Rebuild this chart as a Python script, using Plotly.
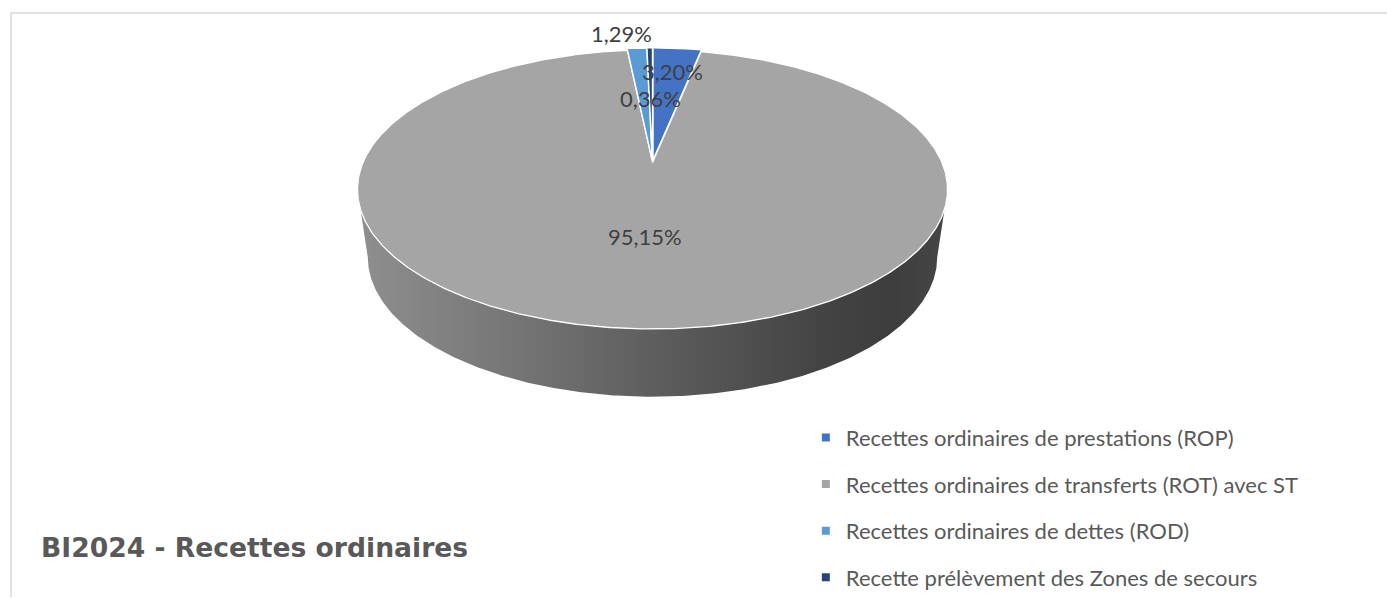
import numpy as np
import plotly.graph_objects as go

# ---- data ----
categories = [
    "Recettes ordinaires de prestations (ROP)",
    "Recettes ordinaires de transferts (ROT) avec ST",
    "Recettes ordinaires de dettes (ROD)",
    "Recette prélèvement des Zones de secours",
]
values = [3.20, 95.15, 1.29, 0.36]
labels = ["3,20%", "95,15%", "1,29%", "0,36%"]
title_text = "BI2024 - Recettes ordinaires"

# ---- styles / geometry (pixel space) ----
colors = ["#4472C4", "#A5A5A5", "#5B9BD5", "#264478"]
X0, Y0 = 652.5, 163.0      # projected pie centre
A, B, K = 289.5, 134.8, 0.193  # radii and perspective factor
DEPTH, BSCALE = 68.0, 0.965
explode = [0.02, 0.0, 0.02, 0.02]
label_r = [0.78, 0.50, 1.18, 0.52]
label_dx = [0, 0, -13, 0]
FONT = "Lato"
TXT = "#404040"


def proj(u, v):
    w = 1 + K * v
    return X0 + A * u / w, Y0 - B * v / w


def ring(t1, t2, r=1.0, ou=0.0, ov=0.0, n=None):
    n = n or max(4, int(abs(t2 - t1) / 0.5) + 2)
    th = np.radians(np.linspace(t1, t2, n))
    return proj(ou + r * np.sin(th), ov + r * np.cos(th))


total = sum(values)
angles = np.cumsum([0] + [v / total * 360 for v in values])

fig = go.Figure()

# side (front wall) of the pie
tr = np.degrees(np.arccos(-K))
xs, ys = ring(tr, 360 - tr)
xb = X0 + BSCALE * (xs - X0)
yb = ys + DEPTH
side_x = np.concatenate([xs, xb[::-1], xs[:1]])
side_y = np.concatenate([ys, yb[::-1], ys[:1]])
fig.add_trace(go.Scatter(
    x=side_x, y=side_y, mode="lines", fill="toself",
    line=dict(width=0, color="#5a5a5a"),
    fillgradient=dict(type="horizontal", colorscale=[
        [0, "#8f8f8f"], [0.25, "#777777"], [0.5, "#5e5e5e"],
        [0.78, "#444444"], [0.9, "#3d3d3d"], [1, "#464646"]]),
    hoverinfo="skip", showlegend=False))

# top faces
order = [1, 0, 2, 3]
for i in order:
    t1, t2 = angles[i], angles[i + 1]
    mid = np.radians((t1 + t2) / 2)
    ou, ov = explode[i] * np.sin(mid), explode[i] * np.cos(mid)
    ax, ay = ring(t1, t2, 1.0, ou, ov)
    cx, cy = proj(ou, ov)
    px = np.concatenate([[cx], ax, [cx]])
    py = np.concatenate([[cy], ay, [cy]])
    fig.add_trace(go.Scatter(
        x=px, y=py, mode="lines", fill="toself", fillcolor=colors[i],
        line=dict(color="white", width=1.3), hoverinfo="skip",
        showlegend=False))

# legend entries
for i, c in enumerate(categories):
    fig.add_trace(go.Scatter(
        x=[None], y=[None], mode="markers", name=c, legendgroup=c,
        marker=dict(symbol="square", size=8, color=colors[i])))

# data labels
for i in range(len(values)):
    mid = np.radians((angles[i] + angles[i + 1]) / 2)
    lx, ly = proj(label_r[i] * np.sin(mid), label_r[i] * np.cos(mid))
    fig.add_annotation(x=lx + label_dx[i], y=ly, text=labels[i],
                       showarrow=False, xref="x", yref="y",
                       font=dict(family=FONT, size=22, color=TXT))

fig.add_annotation(x=39, y=549, xref="x", yref="y", text="<b>" + title_text + "</b>",
                   showarrow=False, xanchor="left", yanchor="middle",
                   font=dict(family="DejaVu Sans", size=26.6, color="#595959"))

fig.add_shape(type="rect", x0=11, y0=13, x1=1420, y1=640, xref="x", yref="y",
              line=dict(color="#D9D9D9", width=1.5), layer="below")

fig.update_layout(
    width=1387, height=599, margin=dict(l=0, r=0, t=0, b=0),
    paper_bgcolor="white", plot_bgcolor="white",
    xaxis=dict(range=[0, 1387], visible=False, fixedrange=True),
    yaxis=dict(range=[599, 0], visible=False, fixedrange=True),
    legend=dict(x=0.581, y=0.302, xanchor="left", yanchor="top",
                font=dict(family=FONT, size=22, color="#595959"),
                tracegroupgap=15, bgcolor="rgba(0,0,0,0)"),
    showlegend=True,
)

fig.write_html("out.html", config={"displayModeBar": False},
               post_script="document.body.style.margin='0';")
